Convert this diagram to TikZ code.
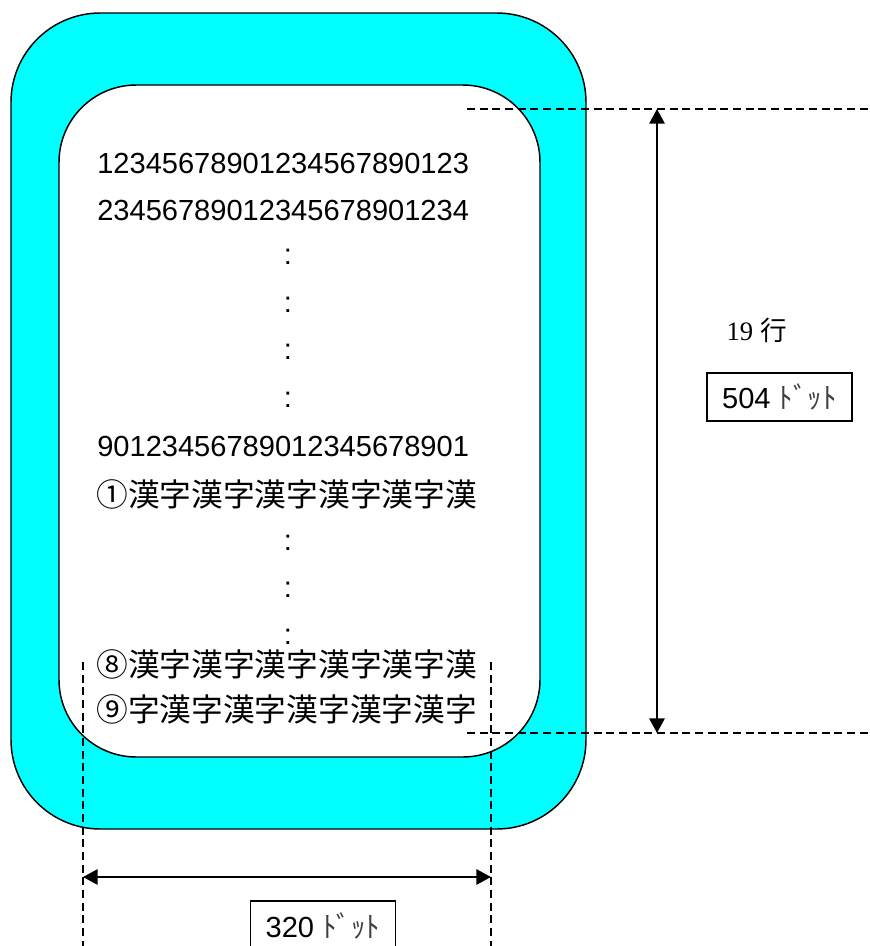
\documentclass[tikz,border=0pt]{standalone}
\usepackage{fontspec}
\setmainfont{Liberation Sans}
\newfontfamily\jpfont{Noto Sans CJK JP}
\newfontfamily\seriffont{Liberation Serif}
\usetikzlibrary{arrows.meta}
\definecolor{aqua}{RGB}{0,255,255}
\begin{document}
\begin{tikzpicture}[x=0.75pt,y=-0.75pt,
  line/.style={font=\fontsize{21.8}{26}\selectfont, anchor=base west, inner sep=0pt},
  jpline/.style={font=\jpfont\fontsize{23.8}{28}\selectfont, anchor=base west, inner sep=0pt},
  colon/.style={font=\fontsize{21.8}{26}\selectfont, inner sep=0pt},
  dimdash/.style={line width=1.1pt, dash pattern=on 6pt off 3.5pt},
  dimarrow/.style={line width=1.6pt, {Triangle[length=11pt,width=11.5pt]}-{Triangle[length=11pt,width=11.5pt]}},
  dotbox/.style={draw, line width=1.2pt, minimum width=108.75pt, minimum height=36pt, inner sep=0pt, font=\fontsize{21.8}{26}\selectfont}
]
\useasboundingbox (0,0) rectangle (870,946);
\clip (0,0) rectangle (870,946);
% outer and inner frames
\draw[fill=aqua, line width=1.1pt, rounded corners=67pt] (11,13) rectangle (586,829);
\draw[fill=white, line width=1.1pt, rounded corners=58pt] (59,85) rectangle (540,757);
% text lines
\node[line] (l1) at (97,173) {12345678901234567890123};
\node[line] (l2) at (97,220) {23456789012345678901234};
\node[colon] (c1) at (288,257) {:};
\node[colon] (c2) at (288,305) {:};
\node[colon] (c3) at (288,352) {:};
\node[colon] (c4) at (288,400) {:};
\node[line] (l3) at (97,456) {90123456789012345678901};
\node[jpline] (k1) at (96,506) {①漢字漢字漢字漢字漢字漢};
\node[colon] (c5) at (288,543) {:};
\node[colon] (c6) at (288,590) {:};
\node[colon] (c7) at (288,637) {:};
\node[jpline] (k8) at (96,676) {⑧漢字漢字漢字漢字漢字漢};
\node[jpline] (k9) at (96,721) {⑨字漢字漢字漢字漢字漢字};
% dimension lines (vertical)
\coordinate (tl) at (467,109);
\coordinate (tr) at (870,109);
\coordinate (bl) at (467,733);
\coordinate (br) at (870,733);
\coordinate (at) at (657,109);
\coordinate (ab) at (657,733);
\draw[dimdash] (tl) -- (tr);
\draw[dimdash] (bl) -- (br);
\draw[dimarrow] (at) -- (ab);
\node[font=\fontsize{20}{24}\selectfont] (rows) at (757,330) {{\seriffont 19} {\jpfont 行}};
\node[dotbox] (h) at (779.5,397) {504 {\jpfont\color{black!75}ﾄﾞｯﾄ}};
% dimension lines (horizontal)
\coordinate (vl1) at (83,662);
\coordinate (vl2) at (83,946);
\coordinate (vr1) at (491,662);
\coordinate (vr2) at (491,946);
\coordinate (al) at (83,877);
\coordinate (ar) at (491,877);
\draw[dimdash] (vl1) -- (vl2);
\draw[dimdash] (vr1) -- (vr2);
\draw[dimarrow] (al) -- (ar);
\node[dotbox, minimum height=37.5pt] (w) at (323,926) {320 {\jpfont\color{black!75}ﾄﾞｯﾄ}};
\end{tikzpicture}
\end{document}
